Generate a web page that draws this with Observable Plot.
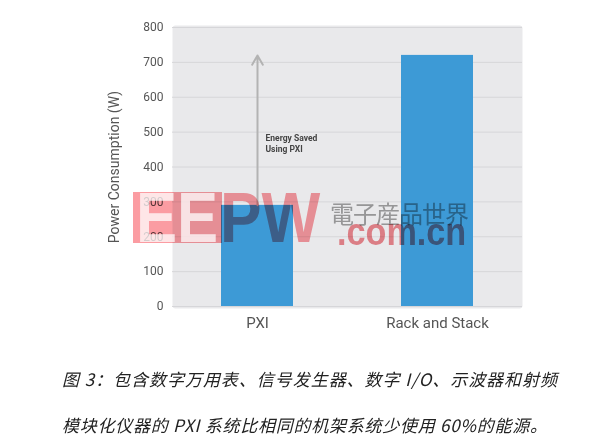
<!DOCTYPE html>
<html><head><meta charset="utf-8">
<script src="https://cdn.jsdelivr.net/npm/d3@7"></script>
<script src="https://cdn.jsdelivr.net/npm/@observablehq/plot@0.6"></script>
<style>
body{margin:0;background:#fff;}
#wrap{position:relative;width:600px;height:445px;overflow:hidden;background:#fff;}
#chart{position:absolute;left:0;top:0;}
.cap{position:absolute;left:62px;font-family:"Noto Sans CJK SC";font-style:italic;font-size:17px;color:#222;white-space:pre;line-height:24px;}
.wm{position:absolute;mix-blend-mode:multiply;pointer-events:none;white-space:pre;transform-origin:0 0;}
</style></head><body>
<div id="wrap">
  <div id="chart"></div>
  <div class="wm" style="left:133px;top:192px;width:89px;height:51px;background:#fb9ca2;"></div>
  <div class="wm" id="wmEE" style="left:136px;top:178px;font:bold 70px 'Liberation Sans';color:#fff;mix-blend-mode:normal;opacity:0.75;transform:scaleX(0.88);">EE</div>
  <div class="wm" id="wmPW" style="left:220px;top:178px;font:bold 70px 'Liberation Sans';color:#fb9ca2;transform:scaleX(0.89);">PW</div>
  <div class="wm" style="left:330px;top:195px;font:24px 'Noto Sans CJK JP';color:#a4a4a4;letter-spacing:-1px;">電子産品世界</div>
  <div class="wm" style="left:337px;top:211px;font:bold 38px 'Liberation Sans';color:#f08a90;transform:scaleX(0.9);">.com.cn</div>
  <div class="cap" id="cap1" style="top:367px;"></div>
  <div class="cap" id="cap2" style="top:413px;"></div>
</div>
<script>
// ---- data ----
const categories = ["PXI", "Rack and Stack"];
const powerW = [290, 720];
const yTicks = [0, 100, 200, 300, 400, 500, 600, 700, 800];
const yLabel = "Power Consumption (W)";
const noteLines = ["Energy Saved", "Using PXI"];
const captionLines = [
  "图 3：包含数字万用表、信号发生器、数字 I/O、示波器和射频",
  "模块化仪器的 PXI 系统比相同的机架系统少使用 60%的能源。"
];

const data = categories.map((c, i) => ({name: c, value: powerW[i]}));
const saved = [{name: categories[0], from: powerW[0], to: powerW[1], mid: (powerW[0] + powerW[1]) / 2}];

const chart = Plot.plot({
  width: 600,
  height: 345,
  marginLeft: 172,
  marginRight: 78,
  marginTop: 27,
  marginBottom: 39,
  style: {fontFamily: "Roboto", background: "transparent", color: "#555"},
  x: {domain: categories, paddingInner: 0.6, paddingOuter: 0.272},
  y: {domain: [0, 800]},
  marks: [
    Plot.frame({fill: "#e9e9eb", stroke: "none", rx: 3, insetTop: -2, insetBottom: -2}),
    Plot.ruleY(yTicks, {stroke: "#d6d6d9", strokeWidth: 1}),
    Plot.barY(data, {x: "name", y: "value", fill: "#3d9ad6"}),
    Plot.arrow(saved, {x1: "name", x2: "name", y1: "from", y2: "to", stroke: "#b3b3b3", strokeWidth: 2, headLength: 8}),
    Plot.text(saved, {x: "name", y: "mid", dx: 8, dy: 13, text: () => noteLines.join("\n"), textAnchor: "start", fontSize: 8.5, fontWeight: "bold", fill: "#444", lineHeight: 1.3}),
    Plot.axisY({ticks: yTicks, tickSize: 0, tickPadding: 9, fontSize: 12, label: yLabel, labelAnchor: "center", labelArrow: "none", labelOffset: 63}),
    Plot.axisX({tickSize: 0, tickPadding: 11, fontSize: 15, label: null})
  ]
});
document.getElementById("chart").appendChild(chart);
// style the y label
chart.querySelectorAll("text").forEach(t => { if (t.textContent.includes("Power")) t.setAttribute("font-size", 14); });

// captions fitted to the reference widths
const capTargets = [495, 485];
captionLines.forEach((line, i) => {
  const el = document.getElementById("cap" + (i + 1));
  el.textContent = line;
  const w = el.getBoundingClientRect().width;
  const n = [...line].length;
  el.style.letterSpacing = ((capTargets[i] - w) / (n - 1)) + "px";
});
</script>
</body></html>
